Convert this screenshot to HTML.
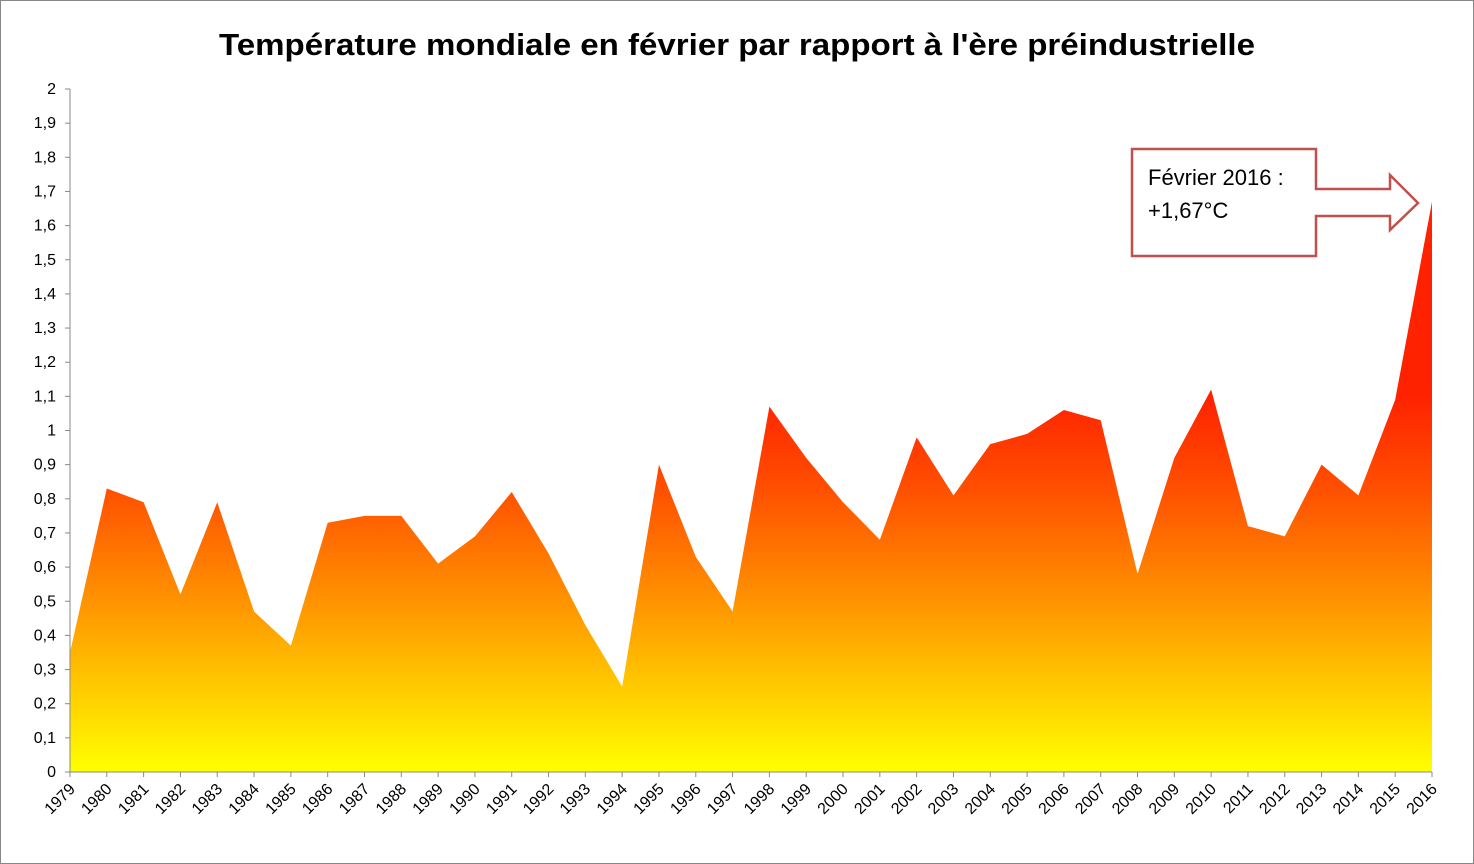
<!DOCTYPE html>
<html><head><meta charset="utf-8">
<style>
html,body{margin:0;padding:0;background:#fff;}
svg{display:block;font-family:"Liberation Sans",sans-serif;}
</style></head>
<body>
<svg id="chart" width="1474" height="864" xmlns="http://www.w3.org/2000/svg">
<defs>
<linearGradient id="fillGrad" gradientUnits="userSpaceOnUse" x1="0" y1="772" x2="0" y2="396">
<stop offset="0" stop-color="#ffff00"/>
<stop offset="0.2" stop-color="#ffd000"/>
<stop offset="0.45" stop-color="#ff9400"/>
<stop offset="0.75" stop-color="#ff5000"/>
<stop offset="1" stop-color="#ff2200"/>
</linearGradient>
</defs>
<rect x="0.5" y="0.5" width="1473" height="863" fill="#fff" stroke="#888" stroke-width="1"/>
<text x="737" y="55" text-anchor="middle" font-size="31" font-weight="bold" fill="#000" textLength="1036" lengthAdjust="spacingAndGlyphs">Température mondiale en février par rapport à l'ère préindustrielle</text>
<g id="plot"></g>
<g>
<path d="M1132,149 H1316 V189 H1390 V175 L1418,203 L1390,230 V216 H1316 V256 H1132 Z" fill="#fff" stroke="#c0504d" stroke-width="2.5"/>
<text x="1148" y="185" font-size="22" fill="#000">Février 2016 :</text>
<text x="1148" y="218" font-size="22" fill="#000">+1,67°C</text>
</g>
</svg>
<script>
const years = [1979,1980,1981,1982,1983,1984,1985,1986,1987,1988,1989,1990,1991,1992,1993,1994,1995,1996,1997,1998,1999,2000,2001,2002,2003,2004,2005,2006,2007,2008,2009,2010,2011,2012,2013,2014,2015,2016];
const values = [0.35,0.83,0.79,0.52,0.79,0.47,0.37,0.73,0.75,0.75,0.61,0.69,0.82,0.64,0.43,0.25,0.90,0.63,0.47,1.07,0.92,0.79,0.68,0.98,0.81,0.96,0.99,1.06,1.03,0.58,0.92,1.12,0.72,0.69,0.90,0.81,1.09,1.67];
const yTicks = [0,0.1,0.2,0.3,0.4,0.5,0.6,0.7,0.8,0.9,1,1.1,1.2,1.3,1.4,1.5,1.6,1.7,1.8,1.9,2];

const X0=70, X1=1432, Y0=772, Y1=89, YMAX=2;
const xS = i => X0 + (X1-X0)*i/(years.length-1);
const yS = v => Y0 - (Y0-Y1)*v/YMAX;
const NS="http://www.w3.org/2000/svg";
const g=document.getElementById('plot');
function mk(t,a){const e=document.createElementNS(NS,t);for(const k in a)e.setAttribute(k,a[k]);g.appendChild(e);return e;}

let d=`M${xS(0)},${Y0}`;
values.forEach((v,i)=>{d+=` L${xS(i)},${yS(v)}`;});
d+=` L${xS(values.length-1)},${Y0} Z`;
const area=mk('path',{d:d,fill:'url(#fillGrad)'});



const ya=mk('line',{x1:X0,y1:Y1,x2:X0,y2:Y0,stroke:'#888','stroke-width':1});


const xa=mk('line',{x1:X0,y1:Y0,x2:X1,y2:Y0,stroke:'#888','stroke-width':1});



yTicks.forEach(t=>{
  const y=yS(t);
  mk('line',{x1:X0-5,y1:y,x2:X0,y2:y,stroke:'#888'});
  const tx=mk('text',{x:X0-14,y:y+5,'text-anchor':'end','font-size':16,fill:'#000'});
  tx.textContent=String(t).replace('.',',');
  
  
});
years.forEach((yr,i)=>{
  const x=xS(i);
  mk('line',{x1:x,y1:Y0,x2:x,y2:Y0+5,stroke:'#888'});
  const tx=mk('text',{x:x+6,y:Y0+18,'text-anchor':'end','font-size':16,fill:'#000',transform:`rotate(-45 ${x+6} ${Y0+18})`});
  tx.textContent=yr;
  
  
});
</script>
</body></html>
